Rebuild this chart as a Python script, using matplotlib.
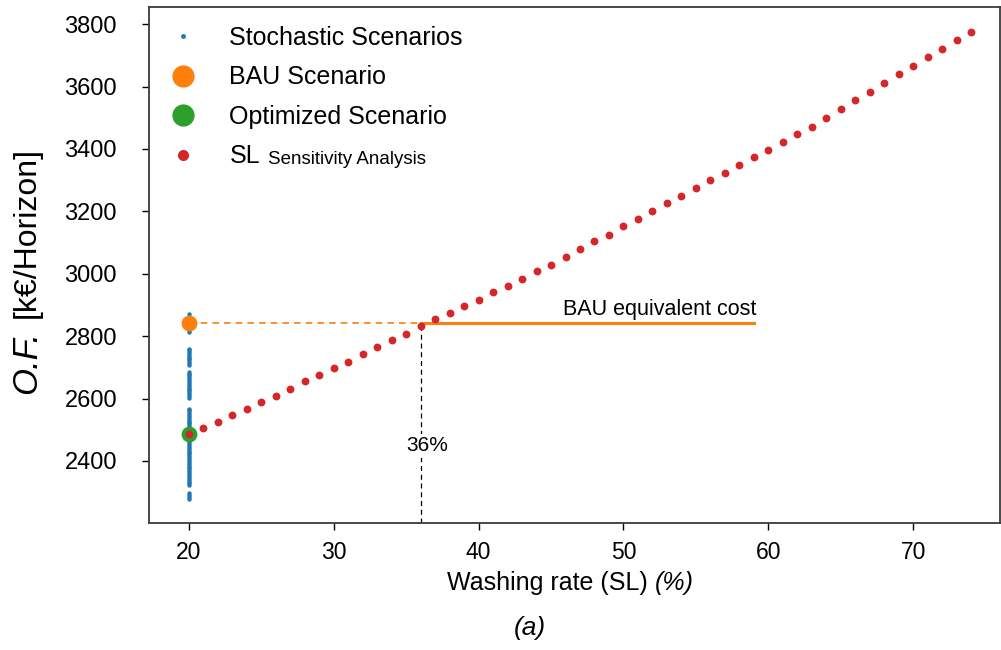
import matplotlib
matplotlib.use("Agg")
import matplotlib.pyplot as plt
from matplotlib.lines import Line2D

plt.rcParams['font.family'] = ['Liberation Sans', 'DejaVu Sans']

# ---------------- data ----------------
sl_rate = list(range(20, 75))
sl_cost = [2487, 2505, 2526, 2546, 2568, 2589, 2609, 2631, 2655, 2677,
           2697, 2718, 2743, 2764, 2786, 2808, 2833, 2854, 2874, 2895,
           2917, 2941, 2962, 2983, 3009, 3029, 3055, 3080, 3104, 3123,
           3152, 3176, 3201, 3226, 3248, 3274, 3299, 3324, 3349, 3375,
           3397, 3421, 3447, 3471, 3500, 3527, 3556, 3581, 3610, 3640,
           3665, 3695, 3719, 3748, 3774]

stoch_rate = 20
stoch_cost = [2870, 2862, 2855, 2848, 2836, 2828, 2820, 2814,
              2760, 2754, 2748, 2742, 2737, 2731, 2726, 2720, 2714, 2708,
              2686, 2680, 2674, 2668, 2662, 2656, 2650, 2644, 2638, 2632,
              2626, 2620, 2614, 2608, 2602, 2568, 2562, 2556, 2550, 2544,
              2538, 2532, 2526, 2520, 2514, 2508, 2502, 2496, 2490, 2484,
              2478, 2472, 2466, 2460, 2454, 2448, 2442, 2436, 2430, 2424,
              2418, 2412, 2406, 2400, 2394, 2388, 2382, 2376, 2370, 2364,
              2358, 2352, 2346, 2340, 2334, 2328, 2322, 2296, 2290, 2284,
              2278]

bau_rate, bau_cost = 20, 2841
opt_rate, opt_cost = 20, 2487
equiv_rate = 36
bau_line_end = 59

xticks = [20, 30, 40, 50, 60, 70]
yticks = [2400, 2600, 2800, 3000, 3200, 3400, 3600, 3800]

c_blue, c_orange, c_green, c_red = '#1f77b4', '#ff7f0e', '#2ca02c', '#d62728'

# ---------------- figure ----------------
fig = plt.figure(figsize=(10.01, 6.5), dpi=100)
ax = fig.add_axes([149/1001, 127/650, 851/1001, 516/650])

ax.scatter([stoch_rate]*len(stoch_cost), stoch_cost, s=10, color=c_blue,
           zorder=2, linewidths=0)
ax.plot([bau_rate, equiv_rate], [bau_cost, bau_cost], color=c_orange,
        ls=(0, (4, 3)), lw=1.2, zorder=1)
ax.plot([equiv_rate, bau_line_end], [bau_cost, bau_cost], color=c_orange,
        lw=2.2, zorder=1)
ylo = 2201
ax.plot([equiv_rate, equiv_rate], [ylo, bau_cost], color='black',
        ls=(0, (4, 3)), lw=0.9, zorder=1)
ax.scatter([bau_rate], [bau_cost], s=130, color=c_orange, zorder=3, linewidths=0)
ax.scatter([opt_rate], [opt_cost], s=130, color=c_green, zorder=3, linewidths=0)
ax.scatter(sl_rate, sl_cost, s=32, color=c_red, zorder=4, linewidths=0)

ax.text(36.44, 2448, '36%', ha='center', va='center', fontsize=15,
        bbox=dict(facecolor='white', edgecolor='none', pad=2), zorder=2)
ax.text(52.5, bau_cost + 12, 'BAU equivalent cost', ha='center',
        va='bottom', fontsize=15.5)

ax.set_xlim(17.24, 76.0)
ax.set_ylim(ylo, 3855)
ax.set_xticks(xticks)
ax.set_yticks(yticks)
ax.tick_params(axis='y', labelsize=17, length=5, pad=18, width=1)
ax.tick_params(axis='x', labelsize=16.5, length=5, pad=8, width=1)
for sp in ax.spines.values():
    sp.set_color('#3a3a3a')
    sp.set_linewidth(1.3)

handles = [
    Line2D([], [], ls='none', marker='o', ms=3.5, color=c_blue, mew=0),
    Line2D([], [], ls='none', marker='o', ms=16, color=c_orange, mew=0),
    Line2D([], [], ls='none', marker='o', ms=16, color=c_green, mew=0),
    Line2D([], [], ls='none', marker='o', ms=8, color=c_red, mew=0),
]
labels = ['Stochastic Scenarios', 'BAU Scenario', 'Optimized Scenario', 'SL']
leg = ax.legend(handles, labels, loc='upper left', bbox_to_anchor=(0.0035, 1.0),
                frameon=False, fontsize=18, handlelength=1.0,
                handletextpad=1.35, labelspacing=0.62, borderaxespad=0,
                borderpad=0.75)
sl_text = leg.get_texts()[3]
ax.annotate('Sensitivity Analysis', xy=(1.0, 0.0), xycoords=sl_text,
            xytext=(6, 0), textcoords='offset points', ha='left',
            va='bottom', fontsize=13.5)

fig.text(447/1001, 1 - 583/650, 'Washing rate (SL) ', ha='left', va='center',
         fontsize=18)
fig.text(530/1001, 1 - 628/650, '(a)', ha='center', va='center',
         fontsize=19, style='italic')

# y label in two parts
fig.text(27/1001, 1 - 362/650, 'O.F.', rotation=90, ha='center',
         va='center', fontsize=25, style='italic')
fig.text(27/1001, 1 - 232/650, '[k€/Horizon]', rotation=90, ha='center',
         va='center', fontsize=23)

# italic (%) after the x label
fig.canvas.draw()
xl = fig.texts[0]
bb = xl.get_window_extent()
fig.text(bb.x1 / fig.bbox.width, 1 - 583/650, '(%)', ha='left', va='center',
         fontsize=18, style='italic')

fig.savefig('out.png', dpi=100)
